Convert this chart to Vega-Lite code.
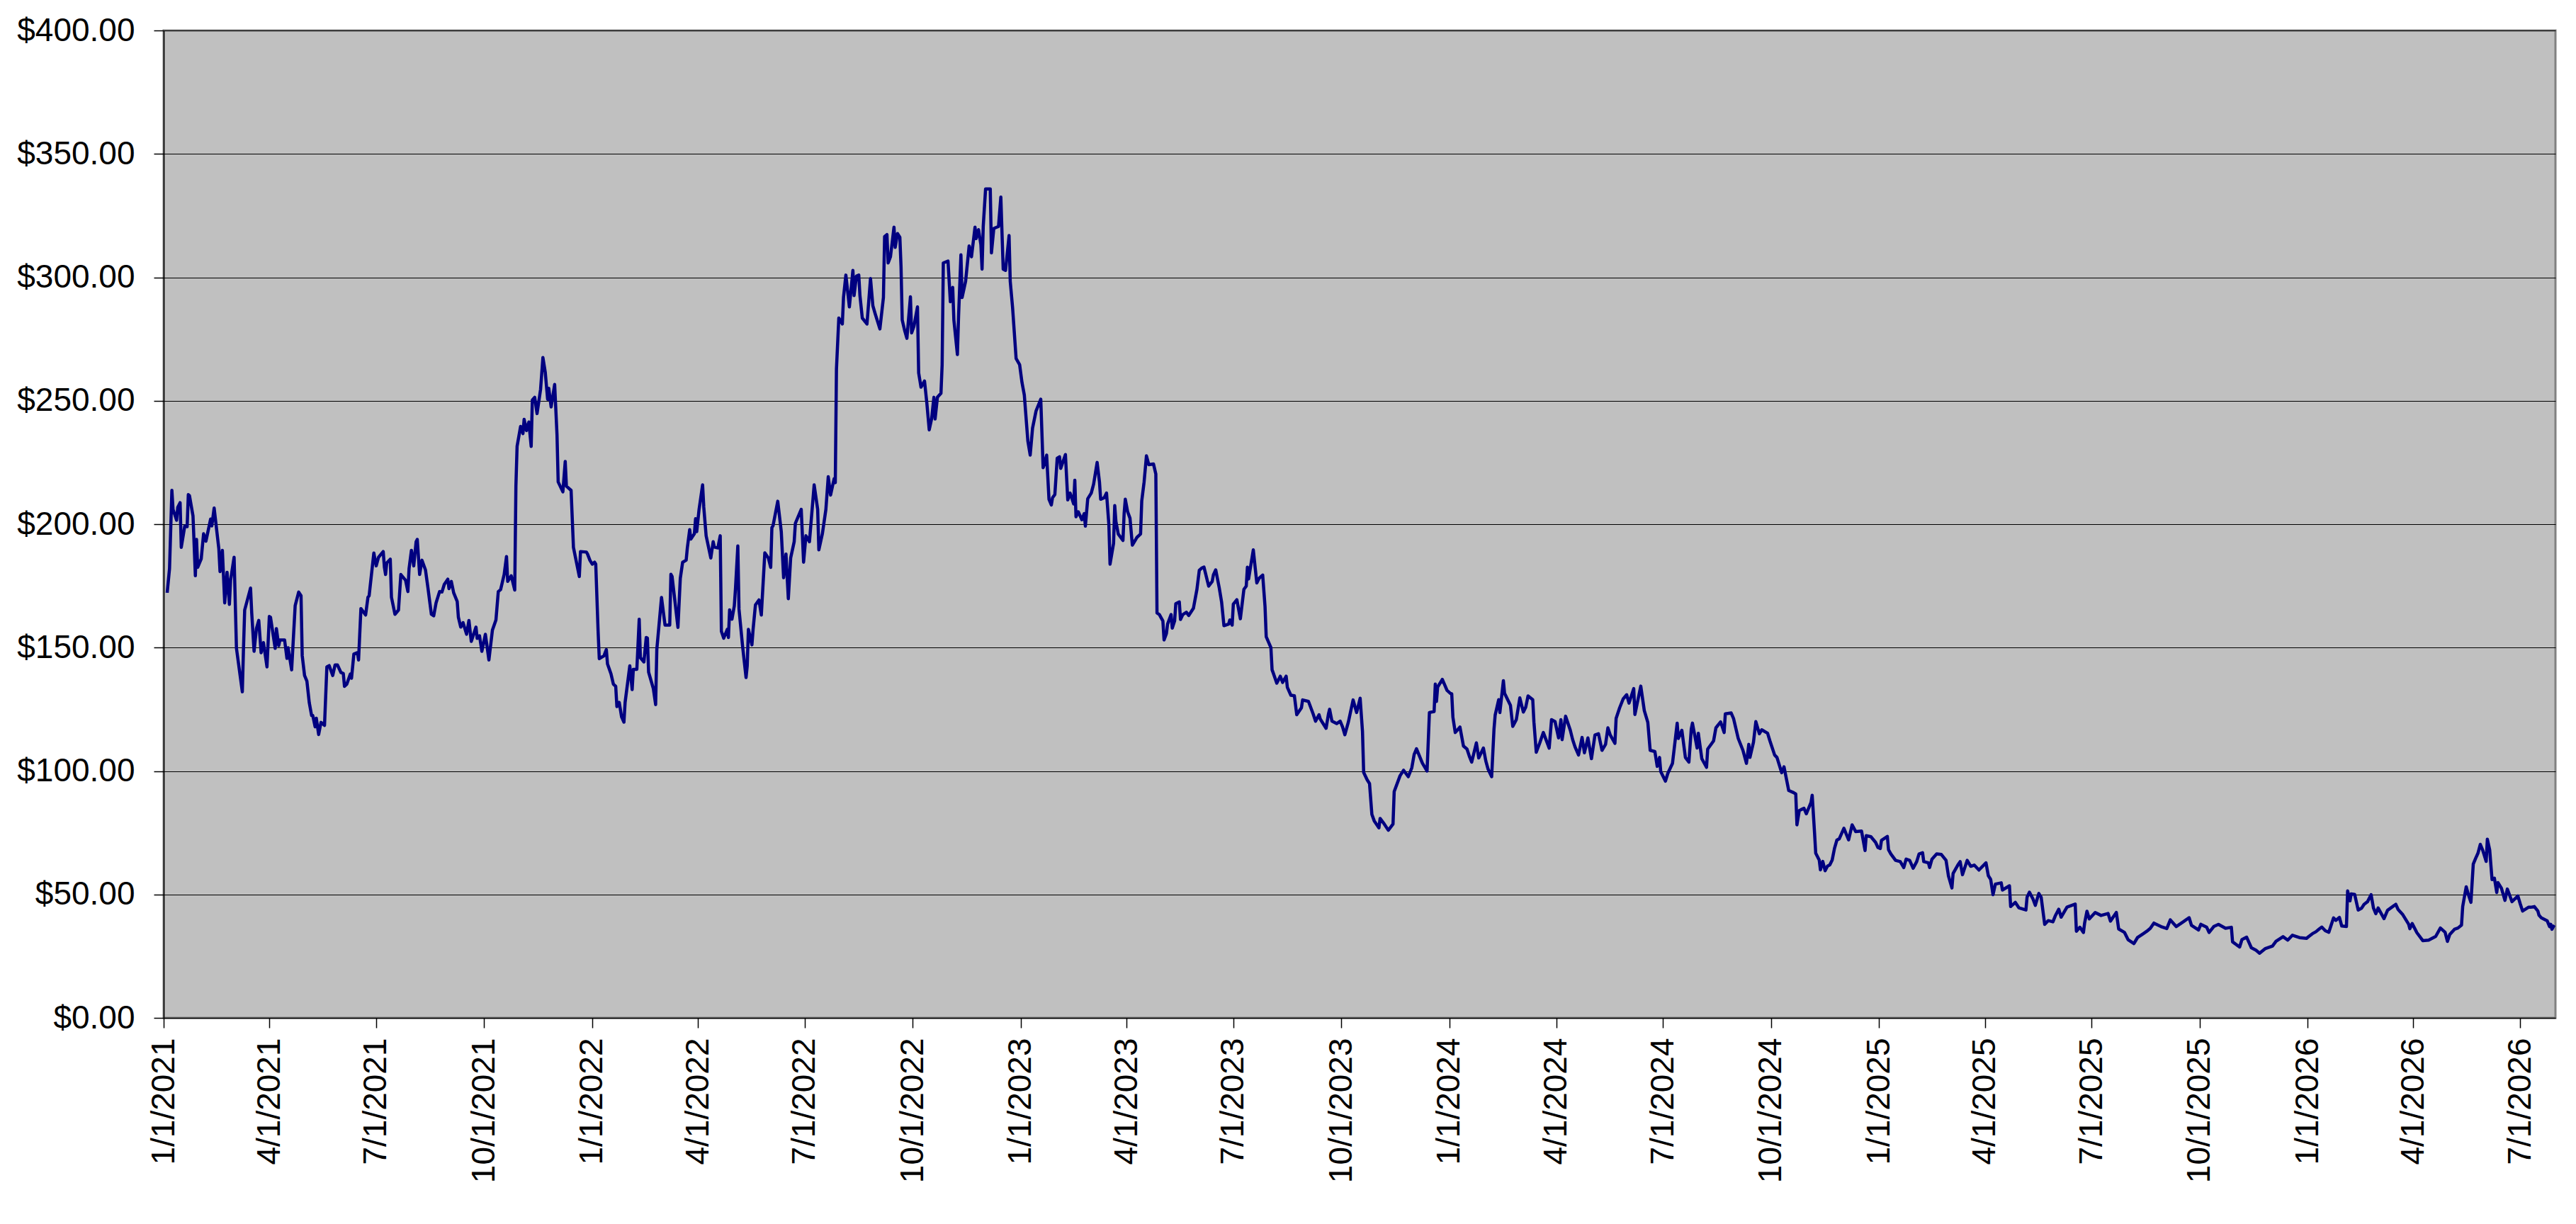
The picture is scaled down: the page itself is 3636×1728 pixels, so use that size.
{
  "$schema": "https://vega.github.io/schema/vega-lite/v6.json",
  "width": 3376,
  "height": 1394,
  "autosize": {"type": "none"},
  "padding": {"left": 231, "top": 43, "right": 29, "bottom": 291},
  "background": "#FFFFFF",
  "config": {
    "view": {"fill": "#C0C0C0", "stroke": "#808080", "strokeWidth": 3},
    "axis": {
      "labelFont": "Liberation Sans",
      "labelFontSize": 46,
      "labelLimit": 600,
      "labelColor": "#000000",
      "tickColor": "#000000",
      "tickWidth": 1.5,
      "tickSize": 14,
      "domainColor": "#000000",
      "domainWidth": 1.5,
      "gridColor": "#000000",
      "gridWidth": 1.2,
      "title": null
    }
  },
  "data": {
    "format": {"parse": {"d": "utc:'%Y-%j'"}},
    "values": [
      {"d":"2021-004","v":172.2},{"d":"2021-006","v":182},{"d":"2021-008","v":213.7},{"d":"2021-009","v":206},{"d":"2021-012","v":201.6},{"d":"2021-013","v":206.8},{"d":"2021-015","v":208.7},{"d":"2021-016","v":190.6},{"d":"2021-019","v":199.3},{"d":"2021-021","v":199},{"d":"2021-022","v":212},{"d":"2021-023","v":211.5},{"d":"2021-026","v":203.3},{"d":"2021-028","v":179.1},{"d":"2021-029","v":193.8},{"d":"2021-030","v":182.5},{"d":"2021-033","v":186},{"d":"2021-035","v":196.1},{"d":"2021-037","v":193.1},{"d":"2021-041","v":202.1},{"d":"2021-042","v":199.3},{"d":"2021-044","v":206.5},{"d":"2021-048","v":190},{"d":"2021-049","v":180.8},{"d":"2021-051","v":189.4},{"d":"2021-053","v":168.1},{"d":"2021-055","v":180.5},{"d":"2021-057","v":167.5},{"d":"2021-058","v":177.3},{"d":"2021-061","v":186.6},{"d":"2021-063","v":149.7},{"d":"2021-068","v":132.1},{"d":"2021-069","v":149.7},{"d":"2021-070","v":165.2},{"d":"2021-075","v":174.1},{"d":"2021-076","v":164.1},{"d":"2021-078","v":148.5},{"d":"2021-080","v":157.7},{"d":"2021-082","v":161},{"d":"2021-084","v":147.9},{"d":"2021-086","v":152},{"d":"2021-089","v":142.2},{"d":"2021-091","v":162.6},{"d":"2021-092","v":162.3},{"d":"2021-096","v":149.7},{"d":"2021-097","v":157.7},{"d":"2021-099","v":150.8},{"d":"2021-100","v":153.1},{"d":"2021-104","v":153.1},{"d":"2021-106","v":145.6},{"d":"2021-107","v":149.9},{"d":"2021-110","v":141},{"d":"2021-113","v":167},{"d":"2021-116","v":172.5},{"d":"2021-118","v":171},{"d":"2021-119","v":146.8},{"d":"2021-121","v":138.7},{"d":"2021-123","v":136.4},{"d":"2021-125","v":127.7},{"d":"2021-127","v":122.5},{"d":"2021-128","v":122.5},{"d":"2021-130","v":117.9},{"d":"2021-131","v":121.4},{"d":"2021-133","v":114.8},{"d":"2021-135","v":119.7},{"d":"2021-138","v":118.5},{"d":"2021-140","v":142.2},{"d":"2021-142","v":142.7},{"d":"2021-145","v":138.7},{"d":"2021-147","v":143},{"d":"2021-149","v":143},{"d":"2021-152","v":139.9},{"d":"2021-154","v":139.5},{"d":"2021-155","v":134.3},{"d":"2021-157","v":135.2},{"d":"2021-160","v":139.3},{"d":"2021-161","v":137.6},{"d":"2021-163","v":147.4},{"d":"2021-166","v":148},{"d":"2021-167","v":145},{"d":"2021-169","v":165.8},{"d":"2021-173","v":163.2},{"d":"2021-175","v":170.4},{"d":"2021-176","v":171},{"d":"2021-180","v":188.3},{"d":"2021-182","v":183.1},{"d":"2021-184","v":186.6},{"d":"2021-188","v":188.9},{"d":"2021-189","v":182.5},{"d":"2021-190","v":179.6},{"d":"2021-191","v":184.3},{"d":"2021-194","v":185.8},{"d":"2021-195","v":170.4},{"d":"2021-198","v":163.5},{"d":"2021-201","v":165.2},{"d":"2021-203","v":179.6},{"d":"2021-207","v":177.3},{"d":"2021-209","v":172.7},{"d":"2021-210","v":182},{"d":"2021-212","v":189.4},{"d":"2021-214","v":183.1},{"d":"2021-216","v":192.9},{"d":"2021-217","v":193.8},{"d":"2021-219","v":179.6},{"d":"2021-221","v":185.4},{"d":"2021-224","v":181.4},{"d":"2021-226","v":174.5},{"d":"2021-229","v":163.5},{"d":"2021-231","v":162.9},{"d":"2021-233","v":168.1},{"d":"2021-236","v":172.7},{"d":"2021-238","v":172.5},{"d":"2021-240","v":175.6},{"d":"2021-243","v":177.7},{"d":"2021-244","v":173.9},{"d":"2021-246","v":176.8},{"d":"2021-248","v":172.2},{"d":"2021-251","v":168.7},{"d":"2021-252","v":162.3},{"d":"2021-254","v":158.3},{"d":"2021-256","v":160.1},{"d":"2021-259","v":155.4},{"d":"2021-261","v":161},{"d":"2021-263","v":152.5},{"d":"2021-267","v":158.3},{"d":"2021-268","v":153.7},{"d":"2021-270","v":154.8},{"d":"2021-272","v":148.5},{"d":"2021-275","v":155.4},{"d":"2021-278","v":145},{"d":"2021-281","v":157.1},{"d":"2021-284","v":161.2},{"d":"2021-286","v":172.7},{"d":"2021-288","v":173.5},{"d":"2021-291","v":179.6},{"d":"2021-293","v":186.9},{"d":"2021-294","v":176.8},{"d":"2021-297","v":179.1},{"d":"2021-300","v":173.3},{"d":"2021-301","v":215.4},{"d":"2021-302","v":231.5},{"d":"2021-305","v":239.6},{"d":"2021-307","v":236.7},{"d":"2021-308","v":242.5},{"d":"2021-310","v":237.9},{"d":"2021-312","v":241.4},{"d":"2021-314","v":231.5},{"d":"2021-315","v":250.3},{"d":"2021-317","v":251.4},{"d":"2021-319","v":244.8},{"d":"2021-322","v":254.6},{"d":"2021-324","v":267.5},{"d":"2021-326","v":261.5},{"d":"2021-328","v":250.6},{"d":"2021-329","v":255},{"d":"2021-331","v":247.5},{"d":"2021-334","v":256.6},{"d":"2021-336","v":236.2},{"d":"2021-337","v":217.1},{"d":"2021-341","v":213.1},{"d":"2021-343","v":225.4},{"d":"2021-344","v":215.4},{"d":"2021-348","v":213.7},{"d":"2021-349","v":202.1},{"d":"2021-350","v":190.6},{"d":"2021-355","v":178.8},{"d":"2021-356","v":188.9},{"d":"2021-361","v":188.7},{"d":"2021-362","v":187.9},{"d":"2021-364","v":185.4},
      {"d":"2022-001","v":183.8},{"d":"2022-003","v":184.6},{"d":"2022-004","v":183.8},{"d":"2022-006","v":156.6},{"d":"2022-007","v":145.5},{"d":"2022-011","v":146.7},{"d":"2022-013","v":149.2},{"d":"2022-014","v":143.4},{"d":"2022-017","v":139.3},{"d":"2022-019","v":135.2},{"d":"2022-021","v":134.3},{"d":"2022-022","v":126.1},{"d":"2022-024","v":127.8},{"d":"2022-026","v":121.9},{"d":"2022-028","v":119.8},{"d":"2022-029","v":127.8},{"d":"2022-033","v":142.6},{"d":"2022-035","v":133},{"d":"2022-036","v":141.2},{"d":"2022-039","v":141.2},{"d":"2022-041","v":161.5},{"d":"2022-042","v":145.9},{"d":"2022-045","v":144.2},{"d":"2022-047","v":154.1},{"d":"2022-048","v":153.8},{"d":"2022-049","v":140.1},{"d":"2022-053","v":133.5},{"d":"2022-055","v":126.9},{"d":"2022-056","v":149.2},{"d":"2022-060","v":170.3},{"d":"2022-063","v":159.1},{"d":"2022-067","v":159.1},{"d":"2022-068","v":179.7},{"d":"2022-069","v":178.8},{"d":"2022-074","v":158.2},{"d":"2022-076","v":178},{"d":"2022-078","v":184.6},{"d":"2022-081","v":185.4},{"d":"2022-082","v":190.4},{"d":"2022-084","v":197.8},{"d":"2022-085","v":194},{"d":"2022-088","v":196.1},{"d":"2022-089","v":202.2},{"d":"2022-090","v":197},{"d":"2022-092","v":206},{"d":"2022-095","v":215.9},{"d":"2022-096","v":206.9},{"d":"2022-098","v":195.3},{"d":"2022-102","v":186.3},{"d":"2022-104","v":192.9},{"d":"2022-105","v":190.7},{"d":"2022-108","v":190.4},{"d":"2022-110","v":195.3},{"d":"2022-111","v":156.6},{"d":"2022-113","v":153.8},{"d":"2022-116","v":157.4},{"d":"2022-117","v":154.1},{"d":"2022-118","v":165.3},{"d":"2022-120","v":161.5},{"d":"2022-122","v":166.9},{"d":"2022-123","v":173.9},{"d":"2022-125","v":191.2},{"d":"2022-126","v":165.6},{"d":"2022-129","v":150.8},{"d":"2022-132","v":137.9},{"d":"2022-133","v":142.6},{"d":"2022-134","v":157.4},{"d":"2022-137","v":151.1},{"d":"2022-138","v":157.4},{"d":"2022-140","v":167.3},{"d":"2022-143","v":169.3},{"d":"2022-145","v":163.2},{"d":"2022-148","v":188.4},{"d":"2022-151","v":186.3},{"d":"2022-153","v":182.5},{"d":"2022-154","v":198.6},{"d":"2022-155","v":199.4},{"d":"2022-159","v":209.3},{"d":"2022-162","v":197},{"d":"2022-164","v":178.3},{"d":"2022-166","v":187.9},{"d":"2022-168","v":169.8},{"d":"2022-170","v":186.3},{"d":"2022-173","v":192.9},{"d":"2022-174","v":200.3},{"d":"2022-179","v":206},{"d":"2022-181","v":184.6},{"d":"2022-183","v":195.3},{"d":"2022-186","v":192.9},{"d":"2022-190","v":215.9},{"d":"2022-193","v":206},{"d":"2022-194","v":189.6},{"d":"2022-197","v":196.1},{"d":"2022-200","v":206},{"d":"2022-202","v":219.2},{"d":"2022-204","v":211.8},{"d":"2022-207","v":218.4},{"d":"2022-208","v":216.8},{"d":"2022-209","v":262.9},{"d":"2022-211","v":283.5},{"d":"2022-214","v":281.1},{"d":"2022-215","v":291.8},{"d":"2022-217","v":300.9},{"d":"2022-220","v":288},{"d":"2022-223","v":302.8},{"d":"2022-224","v":292.6},{"d":"2022-226","v":300.5},{"d":"2022-228","v":300.9},{"d":"2022-229","v":292.6},{"d":"2022-231","v":283.5},{"d":"2022-235","v":281.1},{"d":"2022-238","v":299.5},{"d":"2022-240","v":288.5},{"d":"2022-242","v":285.2},{"d":"2022-246","v":279.1},{"d":"2022-249","v":291.8},{"d":"2022-250","v":316.5},{"d":"2022-252","v":317.3},{"d":"2022-253","v":305.8},{"d":"2022-255","v":308.3},{"d":"2022-258","v":320.3},{"d":"2022-259","v":312.1},{"d":"2022-261","v":317.7},{"d":"2022-263","v":316.2},{"d":"2022-264","v":304.2},{"d":"2022-265","v":282.7},{"d":"2022-267","v":278.6},{"d":"2022-269","v":275.3},{"d":"2022-272","v":292.1},{"d":"2022-273","v":277.5},{"d":"2022-275","v":280.2},{"d":"2022-278","v":288},{"d":"2022-279","v":261.3},{"d":"2022-281","v":255.5},{"d":"2022-284","v":258},{"d":"2022-286","v":248.9},{"d":"2022-288","v":238.2},{"d":"2022-290","v":242.6},{"d":"2022-292","v":251.4},{"d":"2022-293","v":242.6},{"d":"2022-295","v":251.4},{"d":"2022-298","v":253},{"d":"2022-299","v":264.6},{"d":"2022-300","v":305.8},{"d":"2022-304","v":306.6},{"d":"2022-306","v":290.1},{"d":"2022-308","v":295.9},{"d":"2022-309","v":282.7},{"d":"2022-312","v":268.7},{"d":"2022-313","v":284.4},{"d":"2022-315","v":309.1},{"d":"2022-316","v":291.8},{"d":"2022-319","v":298.4},{"d":"2022-322","v":312.7},{"d":"2022-324","v":308.3},{"d":"2022-327","v":320.3},{"d":"2022-328","v":315.7},{"d":"2022-330","v":319.3},{"d":"2022-332","v":313.2},{"d":"2022-333","v":303.3},{"d":"2022-334","v":320.6},{"d":"2022-336","v":335.8},{"d":"2022-340","v":335.8},{"d":"2022-341","v":309.9},{"d":"2022-343","v":319.8},{"d":"2022-347","v":320.6},{"d":"2022-349","v":332.5},{"d":"2022-351","v":303.3},{"d":"2022-353","v":302.8},{"d":"2022-356","v":316.9},{"d":"2022-357","v":298.4},{"d":"2022-359","v":287.7},{"d":"2022-362","v":267.1},{"d":"2022-365","v":264.6},
      {"d":"2023-002","v":257.4},{"d":"2023-004","v":252.3},{"d":"2023-007","v":233.7},{"d":"2023-009","v":228},{"d":"2023-011","v":238.9},{"d":"2023-014","v":245.9},{"d":"2023-018","v":250.6},{"d":"2023-020","v":222.9},{"d":"2023-021","v":224.1},{"d":"2023-023","v":228},{"d":"2023-025","v":210.1},{"d":"2023-027","v":207.8},{"d":"2023-028","v":210.7},{"d":"2023-030","v":212},{"d":"2023-032","v":226.7},{"d":"2023-034","v":227.3},{"d":"2023-035","v":222.6},{"d":"2023-039","v":228.2},{"d":"2023-041","v":209.8},{"d":"2023-043","v":212.6},{"d":"2023-046","v":208.2},{"d":"2023-047","v":217.8},{"d":"2023-048","v":203},{"d":"2023-050","v":205},{"d":"2023-053","v":201.8},{"d":"2023-055","v":204.3},{"d":"2023-056","v":199.2},{"d":"2023-058","v":210.3},{"d":"2023-061","v":212.6},{"d":"2023-063","v":216.2},{"d":"2023-066","v":225},{"d":"2023-068","v":217.1},{"d":"2023-069","v":210.1},{"d":"2023-072","v":210.7},{"d":"2023-074","v":212.6},{"d":"2023-076","v":199.8},{"d":"2023-077","v":183.8},{"d":"2023-080","v":192.2},{"d":"2023-081","v":207.5},{"d":"2023-082","v":201.1},{"d":"2023-084","v":196},{"d":"2023-088","v":193.4},{"d":"2023-089","v":204.3},{"d":"2023-090","v":210.1},{"d":"2023-092","v":205},{"d":"2023-094","v":202.4},{"d":"2023-096","v":191.5},{"d":"2023-100","v":194.7},{"d":"2023-103","v":196},{"d":"2023-104","v":209.4},{"d":"2023-106","v":217.1},{"d":"2023-108","v":227.7},{"d":"2023-110","v":224.1},{"d":"2023-114","v":224.4},{"d":"2023-116","v":220.3},{"d":"2023-117","v":164},{"d":"2023-119","v":163.4},{"d":"2023-122","v":160.8},{"d":"2023-123","v":153.1},{"d":"2023-125","v":155.7},{"d":"2023-126","v":159.5},{"d":"2023-129","v":163.4},{"d":"2023-130","v":157.9},{"d":"2023-132","v":160.8},{"d":"2023-133","v":167.8},{"d":"2023-136","v":168.5},{"d":"2023-137","v":161.4},{"d":"2023-139","v":163.4},{"d":"2023-142","v":164.3},{"d":"2023-144","v":163},{"d":"2023-148","v":165.9},{"d":"2023-151","v":173.6},{"d":"2023-153","v":181.3},{"d":"2023-155","v":182.2},{"d":"2023-157","v":182.6},{"d":"2023-161","v":174.9},{"d":"2023-164","v":176.8},{"d":"2023-165","v":179.4},{"d":"2023-167","v":181.5},{"d":"2023-170","v":174.2},{"d":"2023-172","v":168.5},{"d":"2023-174","v":158.9},{"d":"2023-178","v":159.5},{"d":"2023-179","v":161.2},{"d":"2023-181","v":159.1},{"d":"2023-182","v":167.6},{"d":"2023-185","v":169.4},{"d":"2023-188","v":161.7},{"d":"2023-191","v":173.6},{"d":"2023-193","v":174.9},{"d":"2023-194","v":182.6},{"d":"2023-195","v":177.8},{"d":"2023-199","v":189.6},{"d":"2023-200","v":185.1},{"d":"2023-202","v":176.2},{"d":"2023-204","v":178.1},{"d":"2023-207","v":179.4},{"d":"2023-209","v":166.6},{"d":"2023-210","v":154.4},{"d":"2023-212","v":152.2},{"d":"2023-214","v":150},{"d":"2023-215","v":141},{"d":"2023-216","v":139.7},{"d":"2023-219","v":135.6},{"d":"2023-222","v":138.4},{"d":"2023-224","v":135.9},{"d":"2023-227","v":138.4},{"d":"2023-228","v":133.9},{"d":"2023-231","v":130.7},{"d":"2023-234","v":130.5},{"d":"2023-236","v":122.8},{"d":"2023-240","v":125.6},{"d":"2023-241","v":128.8},{"d":"2023-246","v":128.2},{"d":"2023-250","v":123.1},{"d":"2023-252","v":120.2},{"d":"2023-255","v":122.8},{"d":"2023-256","v":121.1},{"d":"2023-261","v":117.3},{"d":"2023-263","v":123.1},{"d":"2023-264","v":125},{"d":"2023-266","v":120.2},{"d":"2023-270","v":119.2},{"d":"2023-273","v":120.2},{"d":"2023-275","v":117.9},{"d":"2023-277","v":114.7},{"d":"2023-280","v":119.9},{"d":"2023-284","v":128.8},{"d":"2023-287","v":123.7},{"d":"2023-288","v":125.6},{"d":"2023-290","v":129.5},{"d":"2023-292","v":116},{"d":"2023-293","v":99.4},{"d":"2023-296","v":96.4},{"d":"2023-298","v":94.9},{"d":"2023-300","v":82.4},{"d":"2023-302","v":79.8},{"d":"2023-306","v":77},{"d":"2023-307","v":80.8},{"d":"2023-310","v":78.9},{"d":"2023-314","v":76},{"d":"2023-318","v":78.5},{"d":"2023-319","v":91.7},{"d":"2023-324","v":98.1},{"d":"2023-327","v":100.3},{"d":"2023-331","v":97.7},{"d":"2023-334","v":101.3},{"d":"2023-336","v":106.7},{"d":"2023-338","v":109},{"d":"2023-343","v":103.2},{"d":"2023-347","v":100},{"d":"2023-349","v":123.7},{"d":"2023-353","v":124.1},{"d":"2023-354","v":135.2},{"d":"2023-355","v":128.2},{"d":"2023-356","v":134},{"d":"2023-360","v":137.1},{"d":"2023-364","v":132.7},
      {"d":"2024-002","v":131.4},{"d":"2024-003","v":131.3},{"d":"2024-004","v":121.8},{"d":"2024-006","v":115.6},{"d":"2024-010","v":117.8},{"d":"2024-013","v":110.1},{"d":"2024-016","v":108.9},{"d":"2024-018","v":106},{"d":"2024-020","v":103.6},{"d":"2024-024","v":111.4},{"d":"2024-026","v":105.3},{"d":"2024-030","v":109.3},{"d":"2024-032","v":104.1},{"d":"2024-034","v":100.7},{"d":"2024-037","v":97.7},{"d":"2024-039","v":117},{"d":"2024-040","v":122.7},{"d":"2024-043","v":128.9},{"d":"2024-044","v":123.7},{"d":"2024-047","v":136.6},{"d":"2024-048","v":131.5},{"d":"2024-053","v":126.6},{"d":"2024-055","v":118.1},{"d":"2024-058","v":120.8},{"d":"2024-061","v":129.6},{"d":"2024-064","v":123.9},{"d":"2024-066","v":125.8},{"d":"2024-068","v":130.4},{"d":"2024-072","v":128.9},{"d":"2024-073","v":119.9},{"d":"2024-075","v":107.6},{"d":"2024-078","v":111.4},{"d":"2024-081","v":115.6},{"d":"2024-086","v":109.3},{"d":"2024-088","v":120.8},{"d":"2024-091","v":120},{"d":"2024-094","v":113.4},{"d":"2024-096","v":120.8},{"d":"2024-097","v":112.7},{"d":"2024-100","v":122.2},{"d":"2024-104","v":116.5},{"d":"2024-106","v":112.7},{"d":"2024-108","v":109.8},{"d":"2024-111","v":106.5},{"d":"2024-114","v":113.6},{"d":"2024-116","v":107.4},{"d":"2024-119","v":113.4},{"d":"2024-122","v":105},{"d":"2024-125","v":114.6},{"d":"2024-128","v":115.1},{"d":"2024-131","v":108.4},{"d":"2024-134","v":110.8},{"d":"2024-136","v":117.5},{"d":"2024-138","v":114.6},{"d":"2024-142","v":111.2},{"d":"2024-143","v":121.3},{"d":"2024-146","v":125.6},{"d":"2024-149","v":129.2},{"d":"2024-152","v":130.9},{"d":"2024-154","v":127.5},{"d":"2024-158","v":133.4},{"d":"2024-159","v":122.9},{"d":"2024-164","v":134.4},{"d":"2024-167","v":124.5},{"d":"2024-170","v":119.7},{"d":"2024-172","v":108.4},{"d":"2024-176","v":107.9},{"d":"2024-178","v":101.9},{"d":"2024-180","v":105.5},{"d":"2024-181","v":99.8},{"d":"2024-185","v":95.9},{"d":"2024-187","v":99},{"d":"2024-191","v":103.1},{"d":"2024-193","v":111.2},{"d":"2024-195","v":119.4},{"d":"2024-196","v":113.2},{"d":"2024-199","v":116.5},{"d":"2024-202","v":105.5},{"d":"2024-205","v":103.6},{"d":"2024-207","v":117},{"d":"2024-208","v":119.4},{"d":"2024-212","v":109.3},{"d":"2024-213","v":115.3},{"d":"2024-216","v":105},{"d":"2024-220","v":101.5},{"d":"2024-221","v":108.9},{"d":"2024-226","v":112.2},{"d":"2024-228","v":117.5},{"d":"2024-232","v":119.9},{"d":"2024-235","v":115.6},{"d":"2024-236","v":123.2},{"d":"2024-241","v":123.5},{"d":"2024-243","v":121.3},{"d":"2024-247","v":113.2},{"d":"2024-251","v":108.4},{"d":"2024-254","v":103.1},{"d":"2024-256","v":110.8},{"d":"2024-257","v":105.5},{"d":"2024-260","v":111.7},{"d":"2024-262","v":120},{"d":"2024-265","v":115.1},{"d":"2024-267","v":116.7},{"d":"2024-272","v":115.3},{"d":"2024-274","v":112.2},{"d":"2024-278","v":106.5},{"d":"2024-280","v":105.5},{"d":"2024-284","v":99.3},{"d":"2024-286","v":101.7},{"d":"2024-290","v":92.1},{"d":"2024-294","v":91.3},{"d":"2024-296","v":90.7},{"d":"2024-297","v":78.2},{"d":"2024-299","v":84},{"d":"2024-303","v":84.9},{"d":"2024-305","v":82.7},{"d":"2024-309","v":87.3},{"d":"2024-310","v":90.2},{"d":"2024-312","v":74.9},{"d":"2024-313","v":66.7},{"d":"2024-316","v":63.9},{"d":"2024-317","v":60},{"d":"2024-319","v":63.4},{"d":"2024-321","v":59.6},{"d":"2024-323","v":61.5},{"d":"2024-325","v":62},{"d":"2024-327","v":63.9},{"d":"2024-329","v":68.7},{"d":"2024-331","v":72},{"d":"2024-333","v":72.5},{"d":"2024-337","v":76.8},{"d":"2024-341","v":72.1},{"d":"2024-344","v":78.2},{"d":"2024-347","v":75.5},{"d":"2024-352","v":75.7},{"d":"2024-355","v":67.8},{"d":"2024-356","v":73.8},{"d":"2024-360","v":73.4},{"d":"2024-364","v":71.1},{"d":"2024-366","v":69},
      {"d":"2025-002","v":68.6},{"d":"2025-003","v":71.9},{"d":"2025-008","v":73.5},{"d":"2025-009","v":68.1},{"d":"2025-011","v":66.4},{"d":"2025-015","v":63.8},{"d":"2025-019","v":63.3},{"d":"2025-022","v":60.9},{"d":"2025-024","v":64.3},{"d":"2025-027","v":63.8},{"d":"2025-030","v":60.6},{"d":"2025-033","v":63.3},{"d":"2025-035","v":66.4},{"d":"2025-038","v":66.9},{"d":"2025-039","v":63.3},{"d":"2025-043","v":62.8},{"d":"2025-044","v":60.9},{"d":"2025-046","v":64.3},{"d":"2025-050","v":66.4},{"d":"2025-054","v":66.2},{"d":"2025-058","v":63.8},{"d":"2025-060","v":57.6},{"d":"2025-063","v":52.6},{"d":"2025-064","v":58.5},{"d":"2025-068","v":61.9},{"d":"2025-070","v":63.3},{"d":"2025-072","v":58},{"d":"2025-076","v":63.8},{"d":"2025-079","v":61.4},{"d":"2025-082","v":61.9},{"d":"2025-086","v":59.9},{"d":"2025-092","v":62.8},{"d":"2025-094","v":57.6},{"d":"2025-096","v":56.1},{"d":"2025-098","v":49.9},{"d":"2025-100","v":54.2},{"d":"2025-105","v":54.7},{"d":"2025-106","v":51.8},{"d":"2025-112","v":53.5},{"d":"2025-113","v":45.1},{"d":"2025-117","v":46.8},{"d":"2025-120","v":44.6},{"d":"2025-126","v":43.7},{"d":"2025-127","v":48.9},{"d":"2025-129","v":50.9},{"d":"2025-132","v":48.2},{"d":"2025-134","v":45.6},{"d":"2025-137","v":50.4},{"d":"2025-139","v":48.9},{"d":"2025-142","v":37.9},{"d":"2025-145","v":39.4},{"d":"2025-149","v":38.9},{"d":"2025-151","v":41.3},{"d":"2025-154","v":44},{"d":"2025-156","v":40.8},{"d":"2025-161","v":44.9},{"d":"2025-168","v":46.1},{"d":"2025-169","v":35.1},{"d":"2025-172","v":36.7},{"d":"2025-175","v":34.6},{"d":"2025-176","v":38.4},{"d":"2025-178","v":43.2},{"d":"2025-180","v":40.1},{"d":"2025-185","v":42.7},{"d":"2025-190","v":41.5},{"d":"2025-196","v":42.3},{"d":"2025-198","v":39.2},{"d":"2025-203","v":42.7},{"d":"2025-205","v":36},{"d":"2025-210","v":34.6},{"d":"2025-213","v":31.7},{"d":"2025-218","v":30.1},{"d":"2025-221","v":32.5},{"d":"2025-226","v":34.1},{"d":"2025-229","v":35.1},{"d":"2025-232","v":36.3},{"d":"2025-235","v":38.4},{"d":"2025-241","v":37},{"d":"2025-246","v":36.2},{"d":"2025-249","v":39.7},{"d":"2025-254","v":37},{"d":"2025-260","v":38.9},{"d":"2025-265","v":40.6},{"d":"2025-267","v":37.5},{"d":"2025-273","v":35.6},{"d":"2025-275","v":37.9},{"d":"2025-280","v":36.7},{"d":"2025-282","v":34.6},{"d":"2025-286","v":37},{"d":"2025-290","v":37.9},{"d":"2025-296","v":36.3},{"d":"2025-301","v":36.7},{"d":"2025-302","v":30.8},{"d":"2025-308","v":28.7},{"d":"2025-310","v":31.7},{"d":"2025-314","v":32.7},{"d":"2025-318","v":28.4},{"d":"2025-322","v":27.4},{"d":"2025-325","v":26.2},{"d":"2025-330","v":28.1},{"d":"2025-336","v":29.1},{"d":"2025-339","v":31},{"d":"2025-345","v":32.9},{"d":"2025-349","v":31.5},{"d":"2025-353","v":33.5},{"d":"2025-359","v":32.5},{"d":"2025-365","v":32.2},
      {"d":"2026-002","v":33},{"d":"2026-005","v":34.1},{"d":"2026-008","v":34.9},{"d":"2026-011","v":36.1},{"d":"2026-013","v":36.8},{"d":"2026-016","v":35.3},{"d":"2026-019","v":34.7},{"d":"2026-023","v":40.5},{"d":"2026-025","v":39.5},{"d":"2026-028","v":40.7},{"d":"2026-030","v":37.2},{"d":"2026-034","v":37},{"d":"2026-035","v":51.4},{"d":"2026-037","v":47.4},{"d":"2026-038","v":50.2},{"d":"2026-041","v":50},{"d":"2026-044","v":43.7},{"d":"2026-047","v":44.5},{"d":"2026-049","v":46},{"d":"2026-052","v":47.1},{"d":"2026-055","v":49.9},{"d":"2026-057","v":44.5},{"d":"2026-059","v":42.2},{"d":"2026-061","v":44.5},{"d":"2026-066","v":40.2},{"d":"2026-069","v":43.6},{"d":"2026-074","v":45.3},{"d":"2026-076","v":46},{"d":"2026-078","v":43.9},{"d":"2026-082","v":41.8},{"d":"2026-087","v":37.9},{"d":"2026-088","v":36.1},{"d":"2026-090","v":38.2},{"d":"2026-094","v":34.5},{"d":"2026-099","v":31.3},{"d":"2026-104","v":31.5},{"d":"2026-110","v":33},{"d":"2026-114","v":36.4},{"d":"2026-118","v":34.7},{"d":"2026-120","v":31},{"d":"2026-122","v":33.8},{"d":"2026-126","v":35.9},{"d":"2026-129","v":36.4},{"d":"2026-132","v":37.6},{"d":"2026-133","v":45.1},{"d":"2026-136","v":53.1},{"d":"2026-138","v":49.7},{"d":"2026-140","v":46.8},{"d":"2026-142","v":62.3},{"d":"2026-144","v":64.6},{"d":"2026-146","v":66.7},{"d":"2026-148","v":70.3},{"d":"2026-150","v":68},{"d":"2026-153","v":63.4},{"d":"2026-154","v":72.4},{"d":"2026-156","v":68},{"d":"2026-158","v":56},{"d":"2026-160","v":56.6},{"d":"2026-162","v":50.8},{"d":"2026-163","v":54.8},{"d":"2026-166","v":52.5},{"d":"2026-169","v":47.6},{"d":"2026-171","v":52.2},{"d":"2026-175","v":47.1},{"d":"2026-180","v":49.4},{"d":"2026-182","v":46.2},{"d":"2026-184","v":43.3},{"d":"2026-189","v":44.8},{"d":"2026-191","v":44.8},{"d":"2026-194","v":45.1},{"d":"2026-197","v":43.3},{"d":"2026-198","v":41.6},{"d":"2026-200","v":40.5},{"d":"2026-205","v":39.3},{"d":"2026-207","v":37},{"d":"2026-208","v":37.9},{"d":"2026-209","v":35.9},{"d":"2026-211","v":37.6}
    ]
  },
  "mark": {"type": "line", "color": "#000080", "strokeWidth": 4.5, "strokeJoin": "round", "clip": true},
  "encoding": {
    "x": {
      "field": "d",
      "type": "temporal",
      "scale": {
        "type": "utc",
        "domain": [
          {"year": 2021, "month": 1, "date": 1, "utc": true},
          {"year": 2026, "month": 7, "date": 31, "utc": true}
        ],
        "nice": false
      },
      "axis": {
        "title": null,
        "grid": false,
        "labelAngle": 270,
        "labelPadding": 14,
        "labelOverlap": false,
        "labelExpr": "utcFormat(datum.value, '%-m/%-d/%Y')",
        "values": [
          {"year": 2021, "month": 1, "date": 1, "utc": true},
          {"year": 2021, "month": 4, "date": 1, "utc": true},
          {"year": 2021, "month": 7, "date": 1, "utc": true},
          {"year": 2021, "month": 10, "date": 1, "utc": true},
          {"year": 2022, "month": 1, "date": 1, "utc": true},
          {"year": 2022, "month": 4, "date": 1, "utc": true},
          {"year": 2022, "month": 7, "date": 1, "utc": true},
          {"year": 2022, "month": 10, "date": 1, "utc": true},
          {"year": 2023, "month": 1, "date": 1, "utc": true},
          {"year": 2023, "month": 4, "date": 1, "utc": true},
          {"year": 2023, "month": 7, "date": 1, "utc": true},
          {"year": 2023, "month": 10, "date": 1, "utc": true},
          {"year": 2024, "month": 1, "date": 1, "utc": true},
          {"year": 2024, "month": 4, "date": 1, "utc": true},
          {"year": 2024, "month": 7, "date": 1, "utc": true},
          {"year": 2024, "month": 10, "date": 1, "utc": true},
          {"year": 2025, "month": 1, "date": 1, "utc": true},
          {"year": 2025, "month": 4, "date": 1, "utc": true},
          {"year": 2025, "month": 7, "date": 1, "utc": true},
          {"year": 2025, "month": 10, "date": 1, "utc": true},
          {"year": 2026, "month": 1, "date": 1, "utc": true},
          {"year": 2026, "month": 4, "date": 1, "utc": true},
          {"year": 2026, "month": 7, "date": 1, "utc": true}
        ]
      }
    },
    "y": {
      "field": "v",
      "type": "quantitative",
      "scale": {"domain": [0, 400], "nice": false, "zero": true},
      "axis": {
        "title": null,
        "grid": true,
        "values": [0, 50, 100, 150, 200, 250, 300, 350, 400],
        "format": "$.2f",
        "labelPadding": 27
      }
    }
  }
}
